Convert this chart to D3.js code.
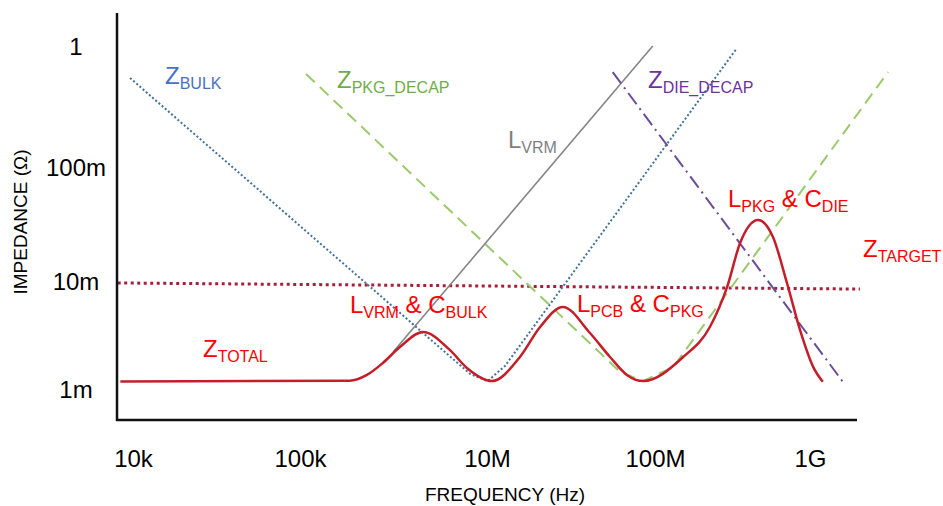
<!DOCTYPE html>
<html>
<head>
<meta charset="utf-8">
<script src="https://cdn.jsdelivr.net/npm/d3@7"></script>
<style>
  body { margin: 0; background: #fff; }
  svg { font-family: "Liberation Sans", Arial, sans-serif; }
</style>
</head>
<body>
<div id="chart"></div>
<script>
// frequency (Hz) / impedance (ohm) ticks as printed on the figure
const freqTicks = [1e4, 1e5, 1e7, 1e8, 1e9];
const freqTickLabels = ['10k', '100k', '10M', '100M', '1G'];
const impTicks = [1e-3, 1e-2, 1e-1, 1];
const impTickLabels = ['1m', '10m', '100m', '1'];

// [frequency, impedance]
const zTotal = [
	[8.4e3, 1.2e-3], [3.4e5, 1.22e-3], [5.2e5, 1.38e-3], [7.7e5, 1.78e-3], [1.17e6, 2.5e-3],
	[2.07e6, 3.44e-3], [4.0e6, 2.35e-3], [6.1e6, 1.6e-3], [1.07e7, 1.21e-3], [1.57e7, 2.02e-3],
	[2.07e7, 3.83e-3], [2.83e7, 5.87e-3], [4.1e7, 3.37e-3], [5.4e7, 2.02e-3], [6.8e7, 1.38e-3],
	[8.5e7, 1.21e-3], [1.52e8, 2.02e-3], [2.26e8, 3.83e-3], [2.92e8, 9.0e-3], [3.54e8, 2.2e-2],
	[4.62e8, 3.5e-2], [5.77e8, 2.48e-2], [7.1e8, 9.8e-3], [8.62e8, 3.6e-3], [1.05e9, 1.63e-3],
	[1.21e9, 1.19e-3]
];
const zBulk = [[9.6e3, 0.554], [6.6e6, 1.41e-3], [1.01e7, 1.21e-3], [1.28e7, 1.67e-3], [3.38e8, 0.98]];
const zPkgDecap = [[1.16e5, 0.598], [6.2e7, 1.47e-3], [8.5e7, 1.21e-3], [1.31e8, 1.63e-3], [3.19e9, 0.621]];
const lVrm = [[9.9e5, 2.25e-3], [9.7e7, 1.02]];
const zDieDecap = [[5.6e7, 0.62], [1.63e9, 1.19e-3]];
const zTarget = [[8.1e3, 9.8e-3], [2.1e9, 8.6e-3]];

const width = 943;
const height = 506;
const frame = { left: 117, right: 857, top: 13, bottom: 420 };

const svg = d3
	.select('#chart')
	.append('svg')
	.attr('width', width)
	.attr('height', height);

// the printed decades are not evenly spaced, so the scales are piecewise
const x = d3.scaleLog().domain(freqTicks).range([133, 300, 487, 655, 810]);
const y = d3.scaleLog().domain(impTicks).range([390, 282, 168, 47]);

const line = d3
	.line()
	.x((d) => x(d[0]))
	.y((d) => y(d[1]));

const series = [
	{ data: zTarget, color: '#a3203a', width: 3, dash: '3,3.5' },
	{ data: zBulk, color: '#41719c', width: 2, dash: '2,2.2' },
	{ data: zPkgDecap, color: '#9cc96b', width: 2, dash: '12,7' },
	{ data: lVrm, color: '#858585', width: 1.6, dash: null },
	{ data: zDieDecap, color: '#6a4c9c', width: 2, dash: '14,5,2,5' }
];

series.forEach((s) => {
	svg
		.append('path')
		.datum(s.data)
		.attr('fill', 'none')
		.attr('stroke', s.color)
		.attr('stroke-width', s.width)
		.attr('stroke-dasharray', s.dash)
		.attr('d', line);
});

svg
	.append('path')
	.datum(zTotal)
	.attr('fill', 'none')
	.attr('stroke', '#c41e2a')
	.attr('stroke-width', 2.5)
	.attr('d', line.curve(d3.curveMonotoneX));

// axes
svg
	.append('g')
	.attr('transform', `translate(0,${frame.bottom})`)
	.call(
		d3
			.axisBottom(x)
			.tickValues(freqTicks)
			.tickFormat((d, i) => freqTickLabels[i])
			.tickSize(0)
			.tickPadding(30)
	)
	.call((g) => g.select('.domain').remove())
	.selectAll('text')
	.attr('font-size', 24)
	.attr('font-family', '"Liberation Sans", Arial, sans-serif')
	.attr('fill', '#000');

svg
	.append('g')
	.attr('transform', 'translate(76,0)')
	.call(
		d3
			.axisLeft(y)
			.tickValues(impTicks)
			.tickFormat((d, i) => impTickLabels[i])
			.tickSize(0)
			.tickPadding(0)
	)
	.call((g) => g.select('.domain').remove())
	.selectAll('text')
	.attr('text-anchor', 'middle')
	.attr('font-size', 24)
	.attr('font-family', '"Liberation Sans", Arial, sans-serif')
	.attr('fill', '#000');

svg
	.append('path')
	.attr('d', `M${frame.left},${frame.top}V${frame.bottom}H${frame.right}`)
	.attr('fill', 'none')
	.attr('stroke', '#111')
	.attr('stroke-width', 2.5);

svg
	.append('text')
	.attr('x', 505)
	.attr('y', 501)
	.attr('text-anchor', 'middle')
	.attr('font-size', 19)
	.text('FREQUENCY (Hz)');

svg
	.append('text')
	.attr('transform', 'translate(27,222) rotate(-90)')
	.attr('text-anchor', 'middle')
	.attr('font-size', 19)
	.text('IMPEDANCE (Ω)');

// labels: pieces of [text, isSubscript]
function label(px, py, color, parts) {
	const t = svg.append('text').attr('x', px).attr('y', py).attr('fill', color).attr('font-size', 24);
	let sub = false;
	parts.forEach(([txt, isSub]) => {
		const ts = t.append('tspan').text(txt);
		if (isSub) ts.attr('font-size', 16);
		if (isSub !== sub) ts.attr('dy', isSub ? 5 : -5);
		sub = isSub;
	});
}

label(165, 84, '#4472c4', [['Z', false], ['BULK', true]]);
label(337, 88, '#70ad47', [['Z', false], ['PKG_DECAP', true]]);
label(508, 148, '#7f7f7f', [['L', false], ['VRM', true]]);
label(648, 88, '#7030a0', [['Z', false], ['DIE_DECAP', true]]);
label(350, 313, '#ff0000', [['L', false], ['VRM', true], [' & C', false], ['BULK', true]]);
label(577, 312, '#ff0000', [['L', false], ['PCB', true], [' & C', false], ['PKG', true]]);
label(728, 207, '#ff0000', [['L', false], ['PKG', true], [' & C', false], ['DIE', true]]);
label(863, 257, '#ff0000', [['Z', false], ['TARGET', true]]);
label(203, 357, '#ff0000', [['Z', false], ['TOTAL', true]]);
</script>
</body>
</html>
